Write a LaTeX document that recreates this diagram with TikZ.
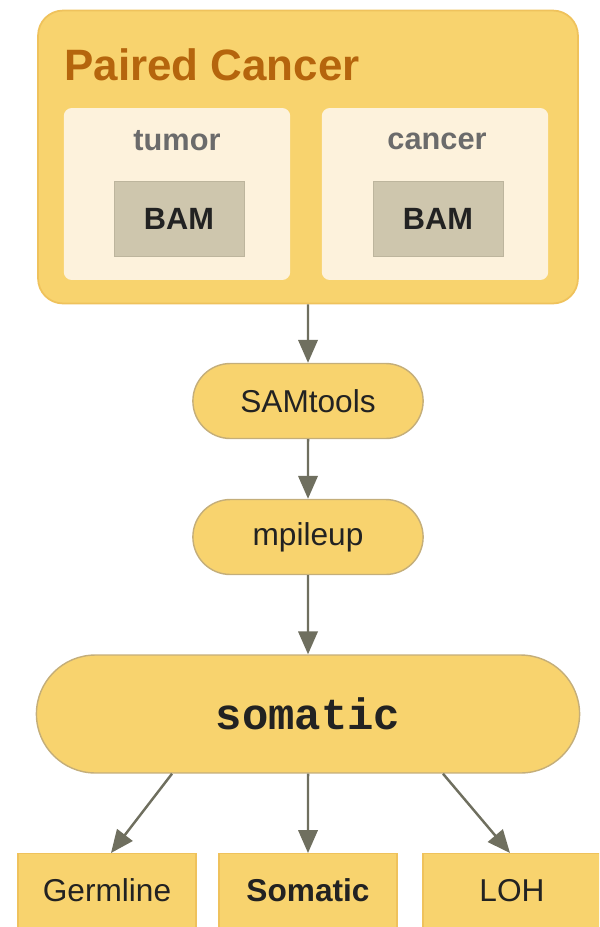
\documentclass[tikz,border=0pt]{standalone}
\usepackage{fontspec}
\setmainfont{Liberation Sans}
\setmonofont{Liberation Mono}
\usetikzlibrary{shapes.misc,arrows.meta}
\definecolor{pipeyellow}{HTML}{F8D36E}
\definecolor{pipeedge}{HTML}{EFC25C}
\definecolor{pilledge}{HTML}{C4AE7A}
\definecolor{samplecream}{HTML}{FDF2DC}
\definecolor{bamgray}{HTML}{CEC6AD}
\definecolor{bamedge}{HTML}{BDB59D}
\definecolor{titlebrown}{HTML}{B5650D}
\definecolor{labelgray}{HTML}{6B6B6B}
\definecolor{arrowgray}{HTML}{6F6F5F}
\definecolor{textblack}{HTML}{222222}
\begin{document}
\begin{tikzpicture}[x=0.02cm,y=-0.02cm,
		group/.style={draw=pipeedge,line width=1pt,fill=pipeyellow,rounded corners=0.5cm,minimum width=10.8cm,minimum height=5.86cm},
		sample/.style={fill=samplecream,rounded corners=0.16cm,minimum width=4.53cm,minimum height=3.44cm},
		bam/.style={draw=bamedge,fill=bamgray,minimum width=2.6cm,minimum height=1.5cm,text=textblack,font=\bfseries\fontsize{17.5}{20}\selectfont},
		tool/.style={rounded rectangle,draw=pilledge,line width=0.8pt,fill=pipeyellow,minimum width=4.84cm,minimum height=1.5cm,text=textblack,font=\fontsize{18}{21}\selectfont},
		result/.style={draw=pipeedge,line width=0.8pt,fill=pipeyellow,inner sep=0pt,minimum width=3.56cm,text height=0.96cm,text depth=0.88cm,text=textblack,font=\fontsize{18}{21}\selectfont},
		flow/.style={draw=arrowgray,line width=1.4pt,-{Triangle[width=11pt,length=13pt]}}]
		\useasboundingbox (0,0) rectangle (599,927);
		\clip (0,0) rectangle (599,927);
		\node[group] (paired) at (308,157) {};
		\node[anchor=base west,inner sep=0pt,text=titlebrown,font=\bfseries\fontsize{25}{30}\selectfont] (title) at (64,80) {Paired Cancer};
		\node[sample] (tumorbox) at (177,194) {};
		\node[sample] (cancerbox) at (435,194) {};
		\node[text=labelgray,font=\bfseries\fontsize{17.5}{20}\selectfont] (tumor) at (177,141) {tumor};
		\node[text=labelgray,font=\bfseries\fontsize{17.5}{20}\selectfont] (cancer) at (437,141) {cancer};
		\node[bam] (bamtumor) at (179,219) {BAM};
		\node[bam] (bamcancer) at (438,219) {BAM};
		\node[tool] (samtools) at (308,401) {SAMtools};
		\node[tool] (mpileup) at (308,537) {mpileup};
		\node[tool,minimum width=11.1cm,minimum height=2.36cm,font=\ttfamily\bfseries\fontsize{25}{30}\selectfont] (somatic) at (308,714) {somatic};
		\node[result,anchor=north] (germline) at (107,853) {Germline};
		\node[result,anchor=north,font=\bfseries\fontsize{18}{21}\selectfont] (somaticcalls) at (308,853) {Somatic};
		\node[result,anchor=north] (loh) at (512,853) {LOH};
		\draw[flow] (paired) -- (samtools);
		\draw[flow] (samtools) -- (mpileup);
		\draw[flow] (mpileup) -- (somatic);
		\draw[flow] ([xshift=-2.72cm]somatic.south) -- ([xshift=0.08cm]germline.north);
		\draw[flow] (somatic) -- (somaticcalls);
		\draw[flow] ([xshift=2.7cm]somatic.south) -- ([xshift=-0.04cm]loh.north);
	\end{tikzpicture}
\end{document}
